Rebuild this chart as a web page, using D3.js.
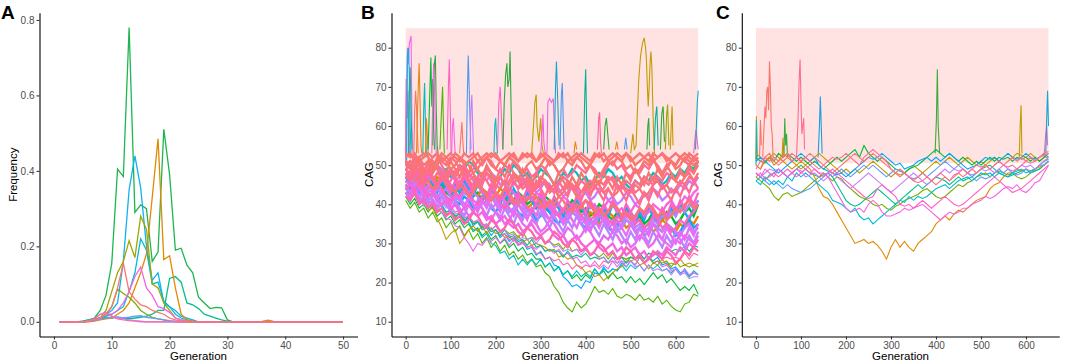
<html>
<script src='https://d3js.org/d3.v7.min.js'></script>
<body style="margin:0">
<div id='vis'></div>
<script>
// ---------- panel A: frequency by generation ----------
const genA = d3.range(1, 51);
const freqA1 = [0,0,0,0,0.002,0.005,0.01,0.03,0.07,0.155, 0.405,0.385,0.78,0.29,0.31,0.30,0.16,0.185,0.51,0.39, 0.19,0.195,0.15,0.13,0.065,0.05,0.035,0.038,0.037,0.005, 0,0,0,0,0,0,0,0,0,0, 0,0,0,0,0,0,0,0,0,0];
const freqA2 = [0,0,0,0,0.002,0.005,0.008,0.01,0.012,0.01, 0.012,0.01,0.008,0.01,0.012,0.015,0.02,0.03,0.03,0.115, 0.12,0.105,0.05,0.045,0.035,0.02,0.015,0.01,0.005,0.002, 0,0,0,0,0,0,0,0,0,0, 0,0,0,0,0,0,0,0,0,0];
const freqA3 = [0,0,0,0,0,0.002,0.005,0.01,0.02,0.03, 0.05,0.16,0.35,0.44,0.355,0.2,0.11,0.13,0.05,0.04, 0.02,0.01,0.005,0.002,0,0,0,0,0,0, 0,0,0,0,0,0,0,0,0,0, 0,0,0,0,0,0,0,0,0,0];
const freqA4 = [0,0,0,0,0,0.002,0.005,0.01,0.015,0.02, 0.03,0.04,0.08,0.13,0.22,0.19,0.1,0.105,0.055,0.04, 0.03,0.015,0.01,0.005,0,0,0,0,0,0, 0,0,0,0,0,0,0,0,0,0, 0,0,0,0,0,0,0,0,0,0];
const freqA5 = [0,0,0,0,0,0,0.002,0.005,0.008,0.01, 0.02,0.03,0.05,0.09,0.13,0.18,0.33,0.485,0.165,0.175, 0.09,0.02,0.005,0.002,0,0,0,0,0,0, 0,0,0,0,0,0.001,0.004,0.001,0,0, 0,0,0,0,0,0,0,0,0,0];
const freqA6 = [0,0,0,0,0,0.002,0.005,0.01,0.03,0.08, 0.13,0.16,0.215,0.17,0.28,0.245,0.1,0.09,0.05,0.03, 0.01,0.005,0.002,0,0,0,0,0,0,0, 0,0,0,0,0,0,0,0,0,0, 0,0,0,0,0,0,0,0,0,0];
const freqA7 = [0,0,0,0,0,0.002,0.005,0.01,0.02,0.04, 0.087,0.075,0.065,0.05,0.03,0.02,0.012,0.008,0.005,0.002, 0,0,0,0,0,0,0,0,0,0, 0,0,0,0,0,0,0,0,0,0, 0,0,0,0,0,0,0,0,0,0];
const freqA8 = [0,0,0,0,0,0.001,0.003,0.008,0.01,0.012, 0.012,0.01,0.012,0.015,0.016,0.012,0.01,0.008,0.005,0.003, 0.002,0,0,0,0,0,0,0,0,0, 0,0,0,0,0,0,0,0,0,0, 0,0,0,0,0,0,0,0,0,0];
const freqA9 = [0,0,0,0,0,0.002,0.008,0.02,0.025,0.015, 0.01,0.008,0.005,0.003,0.002,0,0,0,0,0, 0,0,0,0,0,0,0,0,0,0, 0,0,0,0,0,0,0,0,0,0, 0,0,0,0,0,0,0,0,0,0];
const freqA10 = [0,0,0,0,0,0.002,0.005,0.01,0.02,0.02, 0.03,0.05,0.08,0.12,0.145,0.09,0.07,0.04,0.035,0.025, 0.01,0.005,0.002,0,0,0,0,0,0,0, 0,0,0,0,0,0,0,0,0,0, 0,0,0,0,0,0,0,0,0,0];
const freqA11 = [0,0,0,0,0,0.003,0.008,0.02,0.025,0.015, 0.008,0.005,0.003,0.002,0,0,0,0,0,0, 0,0,0,0,0,0,0,0,0,0, 0,0,0,0,0,0,0,0,0,0, 0,0,0,0,0,0,0,0,0,0];
const freqA12 = [0,0,0,0,0,0.002,0.005,0.01,0.02,0.04, 0.09,0.155,0.08,0.06,0.045,0.04,0.03,0.025,0.02,0.01, 0.005,0.002,0,0,0,0,0,0,0,0, 0,0,0,0,0,0,0,0,0,0, 0,0,0,0,0,0,0,0,0,0];
const seriesA = [freqA1, freqA2, freqA3, freqA4, freqA5, freqA6, freqA7, freqA8, freqA9, freqA10, freqA11, freqA12];
const colorsA = ['#1DB64F', '#00BF8C', '#12B1F0', '#00BCD8', '#E08A00', '#A3A500', '#7CAE00', '#619CFF', '#B983FF', '#F264E6', '#FF67A4', '#F8766D'];
const ticksA_x = [0, 10, 20, 30, 40, 50];
const ticksA_y = [0, 0.2, 0.4, 0.6, 0.8];

// ---------- panels B and C: CAG by generation ----------
const genBC = d3.range(0, 651, 10);
const ticksBC_x = [0, 100, 200, 300, 400, 500, 600];
const ticksBC_y = [10, 20, 30, 40, 50, 60, 70, 80];
const shadeCAG = [50.5, 85];
const shadeGen = [0, 650];

// B: low-running lines
const cagB_low1 = [41,39,40.5,38,39,36.5,38,35.5,36.5,34, 35.5,33,34.5,32,33.5,31,32.5,30,31.5,29, 30.5,28,29.5,27,28,26,27,25,26,24, 24.5,22.5,21.5,19,17.5,15,13.5,12.5,15,13.5, 14.5,16.5,19,17.5,18,17,18.5,16.5,16,17, 16.5,15.5,17,15.5,16,15,16.5,14.5,15.5,14, 13,12.5,14.5,15,17,16.5];
const cagB_low2 = [42,40,41.5,39,40,38,39.5,37,38,36, 37,35,36,34,35,33,34,32,33,31, 32,30,31,29,30,28,29,27,27.5,26, 26,24,25,23,24,22,23,21,22,20.5, 22,21,23.5,22,23,21,22.5,21,21.5,20, 21.5,20,21,19.5,21,22.5,21,22,20,21, 19.5,18,19,18,19.5,17];
const cagB_low3 = [44,42,43.5,41,42,40,41,39,40,38, 38.5,37,37.5,35.5,37,34.5,35.5,33.5,34,32, 33.5,31.5,32.5,30.5,31.5,29.5,30.5,28.5,29,27, 28,26,26.5,24.5,24,21.5,20.5,19,19.5,18.5, 20.5,20,22.5,22,24,22.5,23.5,23,25,24, 25.5,24.5,26.5,25,26.5,25.5,26.5,24.5,25,23.5, 24,22.5,23,21.5,22.5,22];
const cagB_low4 = [43,41.5,42.5,40,41.5,39,40.5,38.5,39,37, 38,36,37,35,35.5,33.5,33.5,31.5,32.5,30, 29.5,27.5,28,26,27,24.5,26,24.5,26,24.5, 26,24,25,23,24,22,23,21.5,23,21.5, 22.5,21.5,23.5,22,23.5,22.5,23.5,23,24.5,23, 24.5,23.5,24.5,23,24.5,23.5,24.5,23,23.5,22.5, 23.5,22,23.5,21.5,23,22];
const cagB_low5 = [44,42.5,43,40.5,41,38.5,39,36.5,34,31, 32.5,33.5,30,31.5,33.5,34.5,33,34.5,32.5,34, 32.5,33,31.5,32,30.5,32,30.5,31,29.5,30, 29.5,29,28,28.5,26.5,27,26,26.5,24.5,24, 22.5,23,21.5,22,20.5,21.5,22.5,23.5,24,25.5, 25.5,26,24.5,25,23.5,25,24.5,26,24.5,25, 24.5,26,24.5,25,24.5,25];
const cagB_low6 = [45,43.5,44,42.5,42,40.5,40,38.5,38,36.5, 36,34.5,34,31.5,30,28,30,29.5,31,30.5, 31.5,30,31.5,29.5,31,29.5,30,29,29.5,28.5, 29.5,28,28.5,27.5,28.5,27,27.5,26,26.5,25, 25.5,24,24.5,23.5,24.5,23.5,25.5,24,25.5,25, 25.5,24.5,26.5,25,26.5,25,25.5,24,24.5,23, 23.5,22,23.5,22,22.5,22];
const cagB_low7 = [46,44.5,45,43.5,43.5,42,42.5,40.5,41,39.5, 39.5,38,38.5,36.5,37,35.5,35.5,34,34.5,33, 33.5,32,32.5,31,31.5,30,30.5,29,29.5,27.5, 27.5,26,26.5,25.5,26,24.5,25,23.5,24.5,23.5, 24.5,24,25.5,24,25.5,25,25.5,25,26.5,26, 26.5,26,27.5,26,27.5,27,27.5,26,26.5,26, 26.5,26,27.5,26,27.5,27];
const cagB_low8 = [43,41.5,42.5,40.5,41,39.5,40,38.5,39,37.5, 38,36.5,38,36,36.5,35,35.5,34.5,35,33.5, 34.5,33,33.5,32.5,33,31.5,33,31,31.5,31, 31.5,30,30.5,29.5,30,28.5,30,28,28.5,28, 28.5,27,27.5,26.5,27.5,26,27.5,26,26.5,26, 26.5,26,26.5,25,26.5,25,25.5,25,25.5,24, 25.5,24,24.5,24,24.5,24];
const cagB_low9 = [44,42.5,43.5,41.5,42,40.5,41,39.5,39.5,38, 38.5,37,37.5,36,36.5,35,35.5,34,34.5,33, 33.5,32,33.5,31.5,32,30.5,31,29.5,31,29, 29.5,28,28.5,28,28,26.5,28,26.5,27,26.5, 27.5,26,26.5,26,26.5,25,26.5,26,26.5,25, 26.5,26,27.5,26,27.5,27,27.5,27,28.5,28, 28.5,28,29.5,28,29.5,29];
const cagB_low10 = [45,43.5,44,42.5,43,41.5,41.5,40,40.5,39, 39.5,37.5,38,36.5,37,35.5,36,34.5,35,33.5, 34.5,33,33.5,32,32.5,31,31.5,31,31.5,30, 31.5,30,30.5,29,29.5,28,28.5,28,28.5,27, 28.5,27,27.5,26,26.5,25,26.5,25,25.5,24, 25.5,24,24.5,23,24.5,23,23.5,23,23.5,22, 23.5,22,22.5,21,21.5,21.5];
const lowB = [cagB_low1, cagB_low2, cagB_low3, cagB_low4, cagB_low5, cagB_low6, cagB_low7, cagB_low8, cagB_low9, cagB_low10];
const lowColorsB = ['#53B400', '#00BA38', '#00A9FF', '#00BFC4', '#C49A00', '#E76BF3', '#FF64B0', '#7CAE00', '#00C08B', '#B983FF'];

// B: the dense band
const cagB_d1 = [50,51,49,52,50,51,48,50,52,51, 49,50,52,51,50,48,49,51,52,50, 49,51,50,52,51,49,48,50,51,49, 50,52,51,50,48,49,51,50,52,51, 49,50,48,47,49,51,50,52,51,49, 50,48,49,51,50,52,49,48,50,51, 49,50,52,51,50,51];
const cagB_d2 = [47,46,48,45,47,49,46,48,47,45, 46,48,47,49,46,45,47,48,46,44, 46,47,45,48,46,44,45,47,46,44, 45,46,44,43,45,47,46,44,45,43, 44,46,45,43,44,46,47,45,44,46, 45,43,44,46,45,47,46,44,45,47, 46,45,47,48,46,47];
const cagB_d3 = [49,48,50,47,48,46,47,45,46,47, 45,44,46,45,43,44,45,43,42,44, 43,41,42,44,43,41,40,42,41,43, 42,40,41,39,40,42,41,39,38,40, 41,39,40,38,39,41,40,38,39,37, 38,40,39,37,38,40,39,38,40,41, 39,40,42,41,43,44];
const cagB_d4 = [46,45,47,44,45,43,44,42,43,44, 42,41,42,40,41,43,42,40,41,39, 40,42,41,39,38,40,39,37,38,40, 39,37,36,38,37,35,36,38,37,35, 36,34,35,37,36,34,35,33,34,36, 35,33,34,32,33,35,34,33,35,34, 33,32,34,35,33,34];
const cagB_d5 = [52,53,51,52,53,52,50,51,53,52, 51,53,52,50,51,52,53,51,52,53, 52,51,50,52,53,51,52,53,52,51, 53,52,50,51,52,53,51,52,53,52, 51,50,52,53,51,52,53,52,51,53, 52,50,51,52,53,51,52,53,52,51, 50,52,53,52,51,52];
const cagB_d6 = [44,45,43,46,44,42,43,45,44,42, 41,43,42,44,43,41,40,42,41,43, 42,40,39,41,40,42,41,39,38,40, 39,41,40,38,37,39,38,40,39,37, 38,36,37,39,38,36,35,37,36,38, 37,35,36,34,35,37,36,34,35,33, 34,36,35,37,38,40];
const cagB_d7 = [49,50,48,49,47,48,50,49,47,46, 48,47,49,48,46,47,45,46,48,47, 45,44,46,45,47,46,44,45,43,44, 46,45,43,44,42,43,45,44,42,43, 45,44,46,45,43,44,42,43,45,44, 43,45,44,42,43,45,46,44,45,43, 44,46,45,47,46,48];
const cagB_d8 = [43,42,44,41,42,40,41,39,40,41, 39,40,38,39,37,38,40,39,37,36, 38,37,35,36,38,37,35,34,36,35, 33,34,36,35,33,32,34,33,31,32, 34,33,31,30,32,31,33,32,30,31, 29,30,32,31,29,30,32,31,30,29, 31,30,32,31,30,32];
const cagB_d9 = [48,47,49,50,48,49,51,50,48,49, 47,48,50,49,51,50,48,47,49,48, 46,47,49,48,50,49,47,48,46,47, 49,48,47,45,46,48,47,49,48,46, 47,45,46,48,47,49,48,46,47,45, 44,46,45,47,46,48,47,45,46,48, 47,49,48,50,49,51];
const cagB_d10 = [45,44,46,43,44,42,43,41,42,44, 43,41,40,42,41,39,40,42,41,39, 38,40,39,41,40,38,37,39,38,36, 37,39,38,36,35,37,36,38,37,35, 34,36,35,37,36,34,33,35,34,36, 35,33,34,32,33,35,34,33,35,34, 32,33,35,36,34,35];
const cagB_d11 = [51,50,52,51,49,50,52,53,51,50, 52,51,49,50,48,49,51,50,52,51, 49,48,50,49,51,50,48,49,47,48, 50,49,51,50,48,49,47,48,50,49, 48,50,49,47,48,50,51,49,50,48, 47,49,48,50,49,51,50,48,49,51, 50,52,51,50,52,51];
const cagB_d12 = [47,48,46,47,45,46,44,45,47,46, 44,43,45,44,42,43,45,44,42,41, 43,42,44,43,41,40,42,41,43,42, 40,39,41,40,42,41,39,38,40,39, 41,40,38,39,37,38,40,39,37,38, 36,37,39,38,40,39,37,38,36,37, 39,38,40,41,39,40];
const cagB_d13 = [50,49,51,48,49,47,48,50,49,47, 48,46,47,49,48,46,45,47,46,48, 47,45,46,44,45,47,46,44,45,43, 44,46,45,43,44,42,43,45,44,42, 43,41,42,44,43,41,42,40,41,43, 42,40,41,43,42,44,43,41,42,44, 43,45,44,46,45,47];
const cagB_d14 = [46,45,44,45,43,42,43,41,40,41, 39,40,38,39,40,38,37,38,36,37, 35,36,37,35,34,35,33,34,35,33, 32,33,34,32,31,32,30,31,32,30, 29,30,31,29,28,29,30,28,29,27, 28,29,27,28,26,27,28,27,29,28, 27,29,28,30,29,31];
const cagB_d15 = [42,41,43,40,41,39,40,38,39,37, 38,36,37,35,36,38,37,35,34,36, 35,33,34,36,35,33,32,34,33,31, 32,30,31,33,32,30,29,31,30,28, 29,27,28,30,29,27,28,26,27,29, 28,26,27,25,26,28,27,26,28,27, 25,26,28,27,29,28];
const cagB_d16 = [53,52,53,51,52,53,52,53,51,52, 53,52,51,53,52,53,51,52,53,52, 53,51,52,53,52,51,53,52,53,51, 52,53,52,51,53,52,53,51,52,53, 52,51,53,52,53,51,52,53,52,53, 51,52,53,52,51,53,52,53,51,52, 53,52,51,53,52,53];
const cagB_d17 = [44,43,45,42,43,41,42,44,43,41, 40,42,41,43,42,40,39,41,40,42, 41,39,40,38,39,41,40,38,39,37, 38,40,39,37,38,36,37,39,38,36, 37,35,36,38,37,35,36,34,35,37, 36,34,35,33,34,36,35,37,36,38, 37,39,38,40,39,41];
const cagB_d18 = [46,45,47,44,45,43,44,46,45,43, 42,44,43,45,44,42,43,41,42,44, 43,41,42,40,41,43,42,40,41,39, 40,42,41,39,40,38,39,41,40,38, 39,37,38,40,39,37,36,38,37,39, 38,36,37,35,36,38,37,36,38,37, 35,36,38,39,37,40];
const cagB_d19 = [47,46,48,45,46,44,45,47,46,44, 45,43,44,46,45,43,42,44,43,41, 42,44,43,41,40,42,41,39,40,42, 41,39,38,40,39,37,38,40,39,37, 36,38,37,35,36,38,37,35,36,34, 35,37,36,34,35,33,34,36,35,34, 33,35,34,36,35,37];
const cagB_d20 = [50,51,49,50,48,49,51,50,48,47, 49,48,50,49,47,48,46,47,49,48, 46,47,45,46,48,47,45,46,44,45, 47,46,44,45,43,44,46,45,44,46, 45,43,44,46,45,47,46,44,45,43, 44,46,45,47,46,45,47,46,48,47, 46,48,47,49,48,50];
const cagB_d21 = [48,46,49,47,45,48,46,44,47,45, 43,46,44,47,45,43,46,44,42,45, 43,41,44,42,40,43,41,44,42,40, 43,41,39,42,40,38,41,39,42,40, 38,41,39,37,40,38,41,39,37,40, 38,36,39,37,40,38,36,39,37,40, 38,41,39,42,40,43];
const cagB_d22 = [47,45,48,46,44,47,45,43,46,44, 42,45,43,46,44,42,45,43,41,44, 42,40,43,41,44,42,40,43,41,39, 42,40,38,41,39,37,40,38,41,39, 37,40,38,36,39,37,40,38,36,39, 37,35,38,36,39,37,35,38,36,39, 37,40,38,36,39,41];
const cagB_d23 = [51,49,52,50,48,51,49,52,50,48, 51,49,47,50,48,51,49,47,50,48, 46,49,47,50,48,46,49,47,45,48, 46,49,47,45,48,46,44,47,45,48, 46,44,47,45,48,46,44,47,45,48, 46,49,47,45,48,46,49,47,50,48, 46,49,47,50,48,51];
const cagB_d24 = [45,43,46,44,42,45,43,41,44,42, 40,43,41,39,42,40,38,41,39,42, 40,38,41,39,37,40,38,36,39,37, 40,38,36,39,37,35,38,36,34,37, 35,33,36,34,37,35,33,36,34,32, 35,33,31,34,32,35,33,31,34,32, 30,33,31,34,32,35];
const cagB_d25 = [49,47,50,48,46,49,47,45,48,46, 49,47,45,48,46,44,47,45,48,46, 44,47,45,43,46,44,47,45,43,46, 44,42,45,43,46,44,42,45,43,41, 44,42,45,43,41,44,42,45,43,41, 44,42,40,43,41,44,42,45,43,41, 44,42,45,43,46,44];
const cagB_d26 = [43,41,44,42,40,43,41,39,42,40, 38,41,39,37,40,38,41,39,37,40, 38,36,39,37,35,38,36,39,37,35, 38,36,34,37,35,33,36,34,37,35, 33,36,34,32,35,33,31,34,32,30, 33,31,34,32,30,33,31,29,32,30, 33,31,29,32,30,33];
const denseB = [cagB_d18, cagB_d19, cagB_d9, cagB_d22, cagB_d10, cagB_d17, cagB_d26, cagB_d4, cagB_d13, cagB_d3, cagB_d8, cagB_d24, cagB_d14, cagB_d6, cagB_d21, cagB_d15, cagB_d12, cagB_d7, cagB_d25, cagB_d2, cagB_d20, cagB_d23, cagB_d11, cagB_d1, cagB_d5, cagB_d16];
const denseColorsB = ['#00BA38', '#E58700', '#00BFC4', '#00B0F6', '#00A9FF', '#B983FF', '#B983FF', '#C77CFF', '#C77CFF', '#F564E3', '#E76BF3', '#E76BF3', '#F564E3', '#FF61C3', '#FF61C3', '#FF64B0', '#F8766D', '#F8766D', '#FF6C91', '#FF6C91', '#FF6C91', '#F8766D', '#FF6C91', '#F8766D', '#F8766D', '#FA7476'];

// B: short excursions above the band, [generation, CAG]
const spikesB = [
  [[0,52],[2,70],[4,80],[6,76],[8,81],[10,82],[12,83],[14,60],[16,53]],
  [[0,53],[2,68],[4,62],[6,66],[8,56],[10,52]],
  [[0,50],[1,72],[3,64],[5,69],[7,58],[9,52]],
  [[2,50],[4,78],[6,80],[8,74],[10,60],[12,52]],
  [[6,52],[8,70],[10,75],[12,64],[14,54]],
  [[18,52],[20,64],[22,69],[24,65],[26,58],[28,53]],
  [[24,53],[26,62],[28,70],[30,76],[32,66],[34,55],[36,53]],
  [[38,52],[40,64],[42,71],[44,60],[46,53]],
  [[44,53],[46,62],[48,58],[50,52]],
  [[50,54],[54,70],[56,77.5],[58,65],[60,72],[62,60],[64,54]],
  [[60,55],[62,70],[64,76],[66,78],[68,64],[70,55],[72,53]],
  [[58,53],[60,66],[62,76],[64,70],[66,58],[68,53]],
  [[76,54],[80,65],[82,70],[84,60],[86,53]],
  [[92,54],[95,70],[97,77],[99,65],[101,53]],
  [[102,53],[104,60],[106,62],[108,57],[110,53]],
  [[120,53],[123,58],[125,61],[127,56],[129,53]],
  [[135,53],[137,68],[139,78],[141,70],[143,62],[145,54]],
  [[143,53],[145,64],[147,68],[149,60],[151,53]],
  [[196,53],[198,60],[200,62],[202,57],[204,53]],
  [[204,54],[207,66],[210,70],[213,62],[216,54]],
  [[216,54],[219,66],[222,73],[225,76],[227,70],[230,72],[232,79],[234,66],[236,55]],
  [[280,53],[284,60],[287,66],[290,68],[292,60],[296,56],[300,62],[303,55],[306,53]],
  [[300,53],[303,58],[305,63],[307,56],[310,53]],
  [[314,53],[316,66],[320,67],[324,66],[328,67],[330,60],[333,53]],
  [[330,54],[333,70],[335,76.5],[338,66],[341,55]],
  [[343,54],[346,68],[348,71],[350,62],[352,54]],
  [[374,53],[377,56],[380,54]],
  [[395,53],[398,68],[400,74.5],[402,62],[404,53]],
  [[426,54],[429,62],[431,63.5],[433,56],[435,53]],
  [[440,54],[443,60],[446,62],[449,58],[452,54]],
  [[466,54],[469,56],[472,54]],
  [[486,54],[489,57],[492,54]],
  [[500,53],[503,56],[505,58],[508,54],[512,55],[515,64],[518,72],[522,78],[526,81],[530,82.5],[533,80],[535,77],[537,70],[539,65],[541,70],[543,76],[545,79],[547,75],[549,66],[551,58],[553,53]],
  [[536,54],[538,60],[540,62],[542,55]],
  [[552,54],[555,62],[558,65],[561,55]],
  [[566,54],[569,63],[572,65],[575,56]],
  [[577,54],[580,63],[582,65.5],[585,55]],
  [[588,54],[590,60],[592,65],[594,55]],
  [[640,53],[643,57],[645,59],[648,56],[650,54]],
  [[644,54],[646,60],[648,66],[650,69]]
];
const spikeColorsB = ['#F564E3', '#FF6C91', '#FF64B0', '#00B4F0', '#00B9A0', '#F8766D', '#E68613', '#00BCC0', '#E68613', '#00BA38', '#2EA83A', '#F564E3', '#53B400', '#FF61C3', '#F564E3', '#F8766D', '#4E97F0', '#C77CFF', '#00BFC4', '#FF61C3', '#2EA83A', '#B8A000', '#F564E3', '#E667E0', '#17A5D0', '#4E97F0', '#E68613', '#00B09A', '#FF5F9A', '#2EA83A', '#E68613', '#4E97F0', '#C49A00', '#2EA83A', '#00B09A', '#2EA83A', '#9FA600', '#C49A00', '#FF61C3', '#17A5D0'];

// C: fewer lineages
const cagC_1 = [50,49,51,52,50,51,53,52,51,50, 49,50,49,47,44,42,41.5,40,38,36, 34,32,30,30.5,31,30,30.5,29.5,28,26, 29,31,29,30.5,29,28,30,31,32,33, 35,36,37,36,37.5,38.5,38,39,40,41, 41.5,42,44,45,45.5,47,48,48,49,48.5, 49,48.5,49,49.5,50,51];
const cagC_2 = [48,47,49,48,47,49,48,47,48,49, 48,49,50,49,48,48,47,45,43,41, 39,38,38.5,39,38,40,41,40,38,37, 37,37.5,38,39,38.5,39,39.5,40,39,38, 37,36,37,38,37.5,38,39,39,40,40.5, 41,42,41.5,42,43,44,44.5,44,45,43.5, 43,44,45.5,46,48,50];
const cagC_3 = [46,45,47,46,45,46,45,47,46,48, 47,48,47,46,45,44,43,41,40.5,40, 39,38,39,37,36,36.5,35,36,37,38, 39,40,41,40.5,42,41,42,41.5,42,43, 44,44.5,45,44,45,46,46.5,47,46,47, 48,47.5,48,47,48,47.5,47,48,48.5,49, 48,48.5,49,50,51,51.5];
const cagC_4 = [47,46,45,44,42,41,42.5,43,42,42.5, 43,44,45,46,47,48,47,46,47,46.5, 45,44,43,42,41.5,41,40,39.5,40,39, 38.5,39.5,40,41,41.5,42,42.5,43.5,44,43, 42,41.5,42,43,44,45,44.5,45.5,46,47, 47.5,48,47,48,48.5,48,47.5,48,47,46.5, 47,48,48.5,49,50,51];
const cagC_5 = [52,51,50.5,52,51,53,52,53,52,51, 52,51,50,51,50,49,50,51,52,51, 52,53,54,52,55,53,52,51,52,51, 50,49,48.5,48,49,49.5,50,51,52,53, 54,53,52,53,52,51,52,51,50,51, 50,51,52,51,52,51.5,52,51,52,51.5, 52,51,52,51,52,53];
const cagC_6 = [49,51,52,51,52,51,52,53,51,52, 51,52,51,50,49,50,51,52,51.5,52, 53,52,51,50,52,53,54,53,52,51, 49,48,47,48,47,46,45.5,46,47,46, 47,48,47,46,47.5,48,49,48,49,50, 49.5,50,49,50,51,50,49.5,50,49,50, 51,50.5,51,52,53,53.5];
const cagC_7 = [51,52,51,50,49,48,49,50,51,52, 53,52,51,52,50,49,48.5,48,47.5,48, 47,48,49,50,51,52,51.5,52,53,52, 51,50,50.5,49,49.5,50,51,51.5,52,51, 52,51,52,53,52,51,50,49,49.5,50, 51,52,51.5,52,51,52,53,52,51.5,52, 53,52,51.5,52,53,52];
const cagC_8 = [48,47,48,49,48.5,49,48,47,48,49, 48.5,47,47.5,48,47,46,47,48,47,46, 45,44,45,46,47,48,47,46,45,44, 43,44,45,46,47,48,47,46,45,46, 47,48,49,48,49,48.5,49,48,47.5,48, 49,48.5,49,48,49,50,49,48.5,49,50, 49.5,50,49,50,51,52];
const cagC_9 = [47,48,46.5,47,48,47,48,49,48,47, 48,49,48,49,48,47,48,49,48,47, 46,45,44,43,42,41.5,42,44,45,44, 43,42,40,39.5,40,39,40,41,40,39, 40,41,42,41,40,39.5,40,41,42,43, 44,45,46,47,46,45,44,43,43.5,44, 45,46,47,48,49,50];
const cagC_10 = [46,47,46,47.5,48,49,48,47,48,49, 50,49,48,47.5,47,47.5,48,47,45,43, 41,40,39.5,40,41,42,43,44,43,42, 41,40,41,42,43,44,45,44,45,46, 47,46.5,46,45,46,47,46,46.5,47,48, 49,49.5,50,49,48,47.5,47,47.5,48,48.5, 49,48,48.5,49,50,51];
const cagC_11 = [50,49,52,53,51,50,51,52,53,52, 51,52,53,52,51,50,49,48,49,50, 51,52,53,52,51,52,53,52,51,50, 49,48,49,48,47,46,47,48,47,46, 45,46,47,46,47,48,47,48,49,48, 49,50,49,50,51,50,51,52,51,52, 51,52,51,52,52.5,53];
const cagC_12 = [53,52,51,52,53,52,51,50,49,50, 51,50,51,52,53,52,51,50,49,48, 49,48,49,48,49,50,51,50,49,48, 47,48,47.5,48,49,50,49,48,49,50, 51,50,51,52,51,50,51,52,51,50, 51,50,51,52,51,52,53,52,53,52.5, 52,53,52,51,52,52];
const cagC_13 = [48,47,46,45,46,45,44,45,44,43.5, 43,43.5,44,45,46,47,48,47,48,49, 48,47,48,49,50,49,50,49,48,47, 48,49,48.5,48,47,46.5,47,48,47,48, 49,50,51,50,49,50,49,48,47,46, 47,46.5,47,48,49,48,49,48,47.5,48, 49,48,49,50,50,51];
const seriesC = [cagC_4, cagC_10, cagC_12, cagC_5, cagC_1, cagC_13, cagC_3, cagC_7, cagC_8, cagC_2, cagC_9, cagC_11, cagC_6];
const colorsC = ['#7CAE00', '#00C08B', '#C49A00', '#00BA38', '#E08A00', '#619CFF', '#00BCD8', '#00A9FF', '#C77CFF', '#F564E3', '#FF61C3', '#F8766D', '#FF6C91'];

const spikesC = [
  [[0,51],[1,62.5],[2,55],[3,52]],
  [[0,50],[1,61.5],[2,52]],
  [[8,52],[10,61.5],[12,55]],
  [[15,52],[18,60],[20,65],[22,62],[24,69],[26,70],[28,64],[30,76.5],[32,70],[34,60],[36,58],[38,52]],
  [[58,52],[60,57],[62,53]],
  [[62,52],[64,62],[66,55],[68,58],[70,52]],
  [[90,52],[93,60],[96,72],[98,77],[100,66],[102,58],[104,60],[106,62],[108,54]],
  [[138,52],[141,60],[143,67.5],[145,60],[147,53]],
  [[398,53],[401,62],[403,74.5],[405,60],[408,53]],
  [[585,52],[587,60],[589,65.3],[591,53]],
  [[640,52],[644,58],[646,60],[648,55]],
  [[644,53],[646,62],[648,69],[650,60]]
];
const spikeColorsC = ['#DE8C00', '#00BFC4', '#F8766D', '#F8766D', '#E08A00', '#3DAA3A', '#FF6C91', '#1E9CE0', '#3DAA3A', '#C49A00', '#FF61C3', '#17A5D0'];

// ---------- drawing ----------
const svg = d3.select('#vis').append('svg')
  .attr('width', 1065).attr('height', 364)
  .style('font-family', '"Liberation Sans", Arial, sans-serif')
  .style('background', '#fff');

function drawAxes(x, y, xTicks, yTicks, yFmt, xTitle, yTitle, yTitleX, letter, letterX) {
  const [x0, x1] = x.range(), [y0, y1] = y.range();
  let gx = svg.append('g').attr('transform', `translate(0,${y0})`)
    .call(d3.axisBottom(x).tickValues(xTicks).tickSize(3).tickSizeOuter(0).tickPadding(2));
  let gy = svg.append('g').attr('transform', `translate(${x0},0)`)
    .call(d3.axisLeft(y).tickValues(yTicks).tickFormat(yFmt).tickSize(3).tickSizeOuter(0).tickPadding(2));
  for (const g of [gx, gy]) {
    g.select('.domain').attr('stroke', '#000').attr('stroke-width', 1.1);
    g.selectAll('.tick line').attr('stroke', '#333').attr('stroke-width', 1.1);
    g.selectAll('.tick text').attr('fill', '#4d4d4d').style('font-size', '10px');
  }
  svg.append('text').attr('x', (x0 + x1) / 2).attr('y', 359.5)
    .attr('text-anchor', 'middle').style('font-size', '11.5px').attr('fill', '#000').text(xTitle);
  svg.append('text').attr('transform', `translate(${yTitleX},${(y0 + y1) / 2}) rotate(-90)`)
    .attr('text-anchor', 'middle').style('font-size', '11.5px').attr('fill', '#000').text(yTitle);
  svg.append('text').attr('x', letterX).attr('y', 19)
    .style('font-size', '19px').style('font-weight', 'bold').attr('fill', '#000').text(letter);
}

// panel A
let xA = d3.scaleLinear().domain([-2.5, 52.5]).range([39.5, 357.5]);
let yA = d3.scaleLinear().domain([-0.039, 0.819]).range([336.5, 12.8]);
let lineA = d3.line().x((d, i) => xA(genA[i])).y(d => yA(d));
svg.append('g').selectAll('path').data(seriesA).enter().append('path')
  .attr('d', lineA).attr('fill', 'none')
  .attr('stroke', (d, i) => colorsA[i]).attr('stroke-width', 1.3);
drawAxes(xA, yA, ticksA_x, ticksA_y, d3.format('.1f'), 'Generation', 'Frequency', 16.5, 'A', 1);

// panels B and C
function drawCAGPanel(x0, x1, spikes, spikeColors, groups, letter, letterX, yTitleX) {
  let x = d3.scaleLinear().domain([-31.5, 674]).range([x0, x1]);
  let y = d3.scaleLinear().domain([6.22, 88.92]).range([336.5, 12.8]);
  svg.append('rect')
    .attr('x', x(shadeGen[0])).attr('width', x(shadeGen[1]) - x(shadeGen[0]))
    .attr('y', y(shadeCAG[1])).attr('height', y(shadeCAG[0]) - y(shadeCAG[1]))
    .attr('fill', '#FFE3E3');
  let spikeLine = d3.line().x(d => x(d[0])).y(d => y(d[1]));
  svg.append('g').selectAll('path').data(spikes).enter().append('path')
    .attr('d', spikeLine).attr('fill', 'none')
    .attr('stroke', (d, i) => spikeColors[i]).attr('stroke-width', 1.1);
  let line = d3.line().x((d, i) => x(genBC[i])).y(d => y(d));
  for (const grp of groups) {
    svg.append('g').selectAll('path').data(grp.series).enter().append('path')
      .attr('d', line).attr('fill', 'none')
      .attr('stroke', (d, i) => grp.colors[i]).attr('stroke-width', grp.width);
  }
  drawAxes(x, y, ticksBC_x, ticksBC_y, d3.format('d'), 'Generation', 'CAG', yTitleX, letter, letterX);
}

drawCAGPanel(391.5, 709, spikesB, spikeColorsB,
  [{ series: lowB, colors: lowColorsB, width: 1.1 }, { series: denseB, colors: denseColorsB, width: 2.3 }], 'B', 361, 372.5);
drawCAGPanel(741.8, 1059.3, spikesC, spikeColorsC,
  [{ series: seriesC, colors: colorsC, width: 1.1 }], 'C', 716, 722);
</script>
</body>
</html>
